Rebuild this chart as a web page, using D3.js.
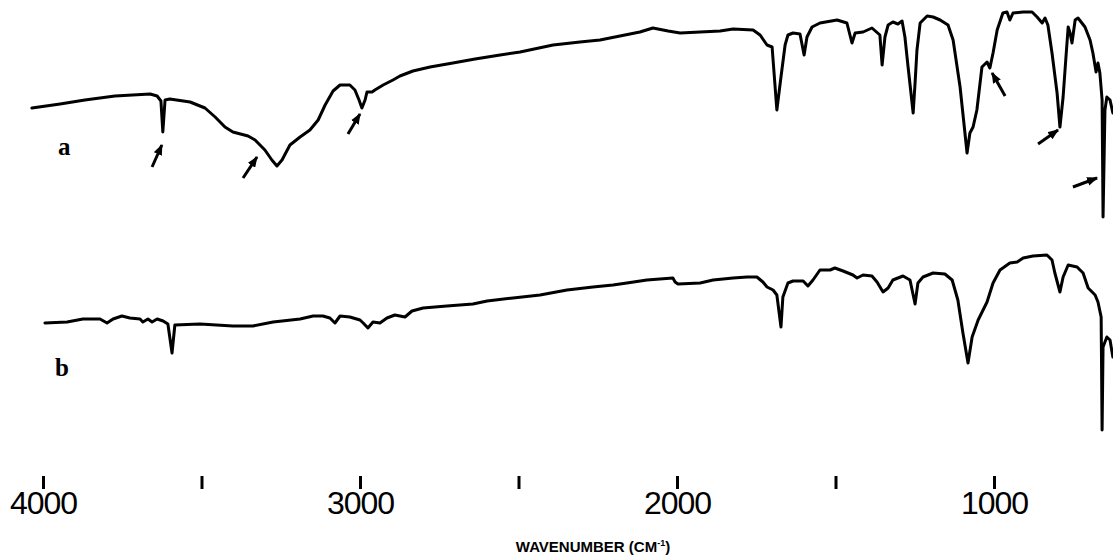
<!DOCTYPE html>
<html>
<head>
<meta charset="utf-8">
<script src="https://cdn.jsdelivr.net/npm/d3@7"></script>
<style>
    html, body { margin: 0; padding: 0; background: #fff; }
    #chart { width: 1113px; height: 555px; overflow: hidden; }
    svg { display: block; }
</style>
</head>
<body>
<div id="chart"></div>
<script>

// spectrum a : wavenumber (cm-1) and transmittance (arbitrary %)
const specA_wn = [4035, 3946, 3868, 3773, 3662, 3640, 3628, 3622, 3615, 3600, 3536, 3489, 3457, 3426, 3401,
    3353, 3331, 3300, 3278, 3262, 3246, 3221, 3189, 3158, 3132, 3110, 3085, 3063, 3032, 3016, 3003, 2994,
    2984, 2978, 2962, 2953, 2927, 2896, 2874, 2833, 2779, 2707, 2637, 2558, 2495, 2391, 2306, 2243, 2180,
    2117, 2076, 2028, 1990, 1927, 1864, 1823, 1760, 1738, 1716, 1700, 1685, 1672, 1659, 1650, 1634, 1612,
    1599, 1590, 1574, 1549, 1495, 1464, 1448, 1438, 1413, 1385, 1360, 1353, 1344, 1334, 1319, 1303, 1290,
    1281, 1271, 1255, 1249, 1243, 1233, 1211, 1192, 1170, 1145, 1129, 1107, 1085, 1076, 1066, 1054, 1038,
    1022, 1013, 1003, 990, 972, 959, 950, 940, 908, 880, 864, 848, 839, 830, 817, 801, 792, 782, 773, 766,
    760, 754, 744, 735, 713, 697, 688, 678, 672, 666, 659, 656, 650, 644, 634, 625];
const specA_T = [53.5, 55.5, 57.5, 59.5, 60.5, 59.5, 57, 41.5, 57.5, 58, 56.5, 53.5, 49, 44, 41.5,
    39.5, 37.5, 32.5, 27.5, 24.5, 27.5, 35, 39, 42.5, 47.5, 55, 62, 65, 65, 62.5, 57.5, 53.5,
    57.5, 61.5, 61.5, 62.5, 65, 67.5, 69.5, 72, 74, 76, 78, 80, 81.5, 85, 86.5, 87.5, 89.5,
    91.5, 93.5, 92, 91, 91.5, 92, 93, 92.5, 90, 85, 84, 52.5, 69, 85, 90, 91, 90.5,
    80, 89, 94, 96, 97.5, 96, 86, 91, 91.5, 93.5, 90, 75, 89, 95, 96.5, 95.5, 97,
    89, 74, 51, 66, 82.5, 96, 99.5, 99, 97.5, 95, 87.5, 64, 31, 41, 44, 52.5, 74,
    76.5, 73.5, 81, 92.5, 101, 101.5, 97.5, 101, 101.5, 101.5, 99, 96, 98.5, 95, 81, 61, 44, 59, 79, 94,
    91, 86, 97.5, 98.5, 94, 87.5, 81, 71.5, 76, 71, 57.5, -1, 52.5, 59, 57.5, 51];

// spectrum b
const specB_wn = [3994, 3924, 3874, 3820, 3798, 3779, 3751, 3726, 3694, 3685, 3669, 3656, 3640, 3621, 3606,
    3593, 3584, 3505, 3401, 3338, 3274, 3189, 3148, 3117, 3095, 3079, 3063, 3032, 3000, 2990, 2975, 2959,
    2937, 2915, 2890, 2858, 2836, 2801, 2726, 2644, 2599, 2517, 2432, 2347, 2265, 2202, 2158, 2095, 2013,
    2006, 1997, 1927, 1886, 1823, 1779, 1748, 1729, 1716, 1697, 1685, 1672, 1666, 1650, 1634, 1602, 1587,
    1571, 1549, 1517, 1502, 1476, 1445, 1432, 1413, 1385, 1369, 1350, 1334, 1319, 1287, 1265, 1249, 1240,
    1224, 1192, 1155, 1132, 1114, 1098, 1082, 1069, 1050, 1022, 1003, 981, 950, 927, 908, 877, 833, 817,
    808, 792, 782, 766, 738, 719, 703, 681, 672, 662, 659, 656, 644, 634, 625];
const specB_T = [54.5, 55, 56.5, 56.5, 54.5, 56.5, 58, 57, 56.5, 55, 56.5, 55, 56.5, 55.5, 54,
    39.5, 53.5, 54, 53, 53, 55, 56.5, 58, 58, 57, 54.5, 58, 57.5, 56, 54.5, 52, 55,
    54.5, 57, 58.5, 57.5, 60.5, 62, 63, 64, 65.5, 67, 68.5, 71, 72.5, 73.5, 74.5, 76, 77,
    75, 74, 74.5, 76, 77, 77.5, 77.5, 75, 72.5, 71, 68.5, 52.5, 67.5, 74.5, 75.5, 75.5, 73,
    76, 81, 81, 82, 80.5, 78.5, 77, 78.5, 78, 75, 70, 72, 76, 78, 76, 64, 74.5,
    77.5, 79.5, 79, 76, 66, 49.5, 34.5, 47.5, 56, 65, 74.5, 81, 84.5, 85, 87, 88, 88.5, 86,
    79.5, 70, 77.5, 83.5, 82.5, 79.5, 72, 68.5, 65, 57.5, 1, 42.5, 47.5, 46, 37.5];

// trace labels, placed in wavenumber / transmittance units
const traceNames = ["a", "b"];
const labelWn = [3953, 3962];
const labelT = [30, 28];

// arrows on spectrum a (tail -> head)
const arrowTailWn = [3656, 3369, 3038, 965, 861, 751];
const arrowTailT = [24, 18.5, 40.5, 59.5, 35.5, 14];
const arrowHeadWn = [3625, 3325, 3000, 1006, 798, 675];
const arrowHeadT = [35, 29, 50.5, 71, 42.5, 18.5];

// axis
const tickValues = [4000, 3500, 3000, 2500, 2000, 1500, 1000];
const tickLabels = ["4000", "", "3000", "", "2000", "", "1000"];
const axisTitle = "WAVENUMBER (CM";


class SpectrumChart {

    constructor(parentElement) {
        this._parentElement = parentElement;
        this.initVis();
    }

    initVis() {
        let vis = this;

        vis.width = 1113;
        vis.height = 555;

        vis.svg = d3.select("#" + vis._parentElement).append("svg")
            .attr("width", vis.width)
            .attr("height", vis.height);

        // x: wavenumber, decreasing to the right
        vis.x = d3.scaleLinear()
            .domain([4000, 1000])
            .range([43, 994]);

        // one transmittance scale per trace, 2px per unit
        vis.yA = d3.scaleLinear().domain([0, 100]).range([215, 15]);
        vis.yB = d3.scaleLinear().domain([0, 100]).range([432, 232]);

        vis.svg.append("defs").append("marker")
            .attr("id", "arrowhead")
            .attr("markerUnits", "userSpaceOnUse")
            .attr("viewBox", "0 0 10 8")
            .attr("refX", 9)
            .attr("refY", 4)
            .attr("markerWidth", 11)
            .attr("markerHeight", 9)
            .attr("orient", "auto")
            .append("path")
            .attr("d", "M0,0 L10,4 L0,8 Z")
            .attr("fill", "#000");

        vis.updateVis();
    }

    updateVis() {
        let vis = this;

        let traces = [
            {wn: specA_wn, t: specA_T, y: vis.yA},
            {wn: specB_wn, t: specB_T, y: vis.yB}
        ];

        traces.forEach(function (tr, i) {
            let pts = tr.wn.map((w, j) => [w, tr.t[j]]);
            let line = d3.line()
                .x(d => vis.x(d[0]))
                .y(d => tr.y(d[1]));

            vis.svg.append("path")
                .datum(pts)
                .attr("fill", "none")
                .attr("stroke", "#000")
                .attr("stroke-width", 3)
                .attr("stroke-linejoin", "round")
                .attr("stroke-linecap", "round")
                .attr("d", line);

            vis.svg.append("text")
                .attr("x", vis.x(labelWn[i]))
                .attr("y", tr.y(labelT[i]))
                .attr("font-family", "'Liberation Serif', 'Times New Roman', serif")
                .attr("font-weight", "bold")
                .attr("font-size", 25)
                .text(traceNames[i]);
        });

        // arrows
        vis.svg.selectAll(".arrow")
            .data(arrowTailWn)
            .enter().append("line")
            .attr("class", "arrow")
            .attr("x1", (d, i) => vis.x(arrowTailWn[i]))
            .attr("y1", (d, i) => vis.yA(arrowTailT[i]))
            .attr("x2", (d, i) => vis.x(arrowHeadWn[i]))
            .attr("y2", (d, i) => vis.yA(arrowHeadT[i]))
            .attr("stroke", "#000")
            .attr("stroke-width", 3)
            .attr("marker-end", "url(#arrowhead)");

        // x axis, no domain line
        vis.xAxis = d3.axisBottom(vis.x)
            .tickValues(tickValues)
            .tickSize(13)
            .tickFormat((d, i) => tickLabels[i]);

        let ax = vis.svg.append("g")
            .attr("transform", "translate(0,476)")
            .call(vis.xAxis);

        ax.select(".domain").remove();
        ax.selectAll(".tick line")
            .attr("stroke", "#000")
            .attr("stroke-width", 3);
        ax.selectAll(".tick text")
            .attr("y", 38)
            .attr("dy", 0)
            .attr("fill", "#000")
            .attr("font-family", "'Liberation Sans', Arial, sans-serif")
            .attr("font-size", 32)
            .attr("letter-spacing", -1);

        let title = vis.svg.append("text")
            .attr("x", 593)
            .attr("y", 552)
            .attr("text-anchor", "middle")
            .attr("font-family", "'Liberation Sans', Arial, sans-serif")
            .attr("font-weight", "bold")
            .attr("font-size", 15)
            .text(axisTitle);
        title.append("tspan")
            .attr("font-size", 9)
            .attr("dy", -6)
            .text("-1");
        title.append("tspan")
            .attr("dy", 6)
            .text(")");
    }
}

new SpectrumChart("chart");

</script>
</body>
</html>
